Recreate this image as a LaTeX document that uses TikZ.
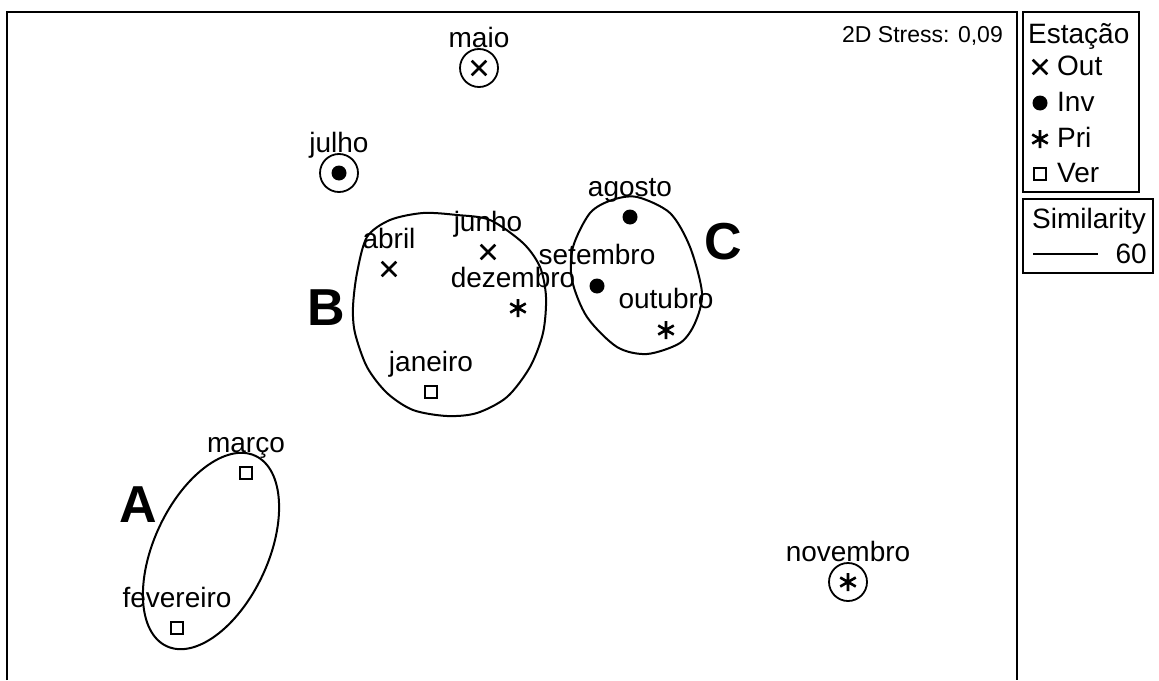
\documentclass[tikz,border=0pt]{standalone}
\usepackage{fontspec}
\setmainfont{Liberation Sans}
\usetikzlibrary{positioning, shapes.misc}

\begin{document}
\begin{tikzpicture} [x=1pt, y=-1pt,
outmk/.style={draw, cross out, minimum size=12pt, inner sep=0pt, line width=2.6pt},
invmk/.style={circle, fill, minimum size=15pt, inner sep=0pt},
primk/.style={minimum size=21pt, inner sep=0pt, path picture={\draw[line width=2.6pt, shift={(path picture bounding box.center)}] (0,-9) -- (0,9) (-7.8,-4.5) -- (7.8,4.5) (-7.8,4.5) -- (7.8,-4.5);}},
vermk/.style={draw, minimum size=12pt, inner sep=0pt, line width=2.8pt},
ring/.style={draw, circle, minimum size=38pt, line width=1.8pt},
lbl/.style={font=\fontsize{28}{28}\selectfont, inner sep=0pt, anchor=base},
leg/.style={font=\fontsize{28}{28}\selectfont, inner sep=0pt},
grp/.style={font=\fontsize{52}{52}\selectfont\bfseries, inner sep=0pt},
hull/.style={line width=2pt}]
\useasboundingbox (0,0) rectangle (1159,680);
% frame and legend boxes
\draw[line width=2.6pt] (7,680) -- (7,12) -- (1017,12) -- (1017,680);
\draw[line width=2.2pt] (1023,12) rectangle (1139,192);
\draw[line width=2.2pt] (1023,199) rectangle (1153,273);
\node[anchor=base east, inner sep=0pt, font=\fontsize{23}{23}\selectfont] (stress) at (1003,42) {2D Stress: 0,09};
% points
\node[outmk] (mai) at (479,68) {};
\node[ring] (rmai) at (mai) {};
\node[above=21pt of mai.center, lbl] {maio};
\node[invmk] (jul) at (339,173) {};
\node[ring] (rjul) at (jul) {};
\node[above=21pt of jul.center, lbl] {julho};
\node[outmk] (abr) at (389,269) {};
\node[above=21pt of abr.center, lbl] {abril};
\node[outmk] (jun) at (488,252) {};
\node[above=21pt of jun.center, lbl] {junho};
\node[primk] (dez) at (518,308) {};
\node[above=21pt of dez.center, lbl, xshift=-5pt] {dezembro};
\node[vermk] (jan) at (431,392) {};
\node[above=21pt of jan.center, lbl] {janeiro};
\node[invmk] (ago) at (630,217) {};
\node[above=21pt of ago.center, lbl] {agosto};
\node[invmk] (set) at (597,286) {};
\node[above=22pt of set.center, lbl] {setembro};
\node[primk] (otb) at (666,330) {};
\node[above=22pt of otb.center, lbl] {outubro};
\node[primk] (nov) at (848,582) {};
\node[ring] (rnov) at (nov) {};
\node[above=21pt of nov.center, lbl] {novembro};
\node[vermk] (mar) at (246,473) {};
\node[above=21pt of mar.center, lbl] {março};
\node[vermk] (fev) at (177,628) {};
\node[above=21pt of fev.center, lbl] {fevereiro};
% groups
\draw[hull, rotate around={65:(211,551)}] (211,551) ellipse [x radius=105, y radius=57];
\draw[hull] plot[smooth cycle] coordinates {(353,307) (357,273) (367,237) (390,220) (423,213) (457,215) (490,220) (523,243) (540,267) (546,297) (543,333) (530,367) (507,397) (477,413) (447,416) (413,410) (387,393) (367,367) (355,333)};
\draw[hull] plot[smooth cycle] coordinates {(637,197) (670,213) (690,247) (702,293) (695,323) (680,343) (647,354) (617,347) (587,317) (572,280) (573,247) (590,213) (612,200)};
\node[grp] (gA) at (138,505) {A};
\node[grp] (gB) at (326,308) {B};
\node[grp] (gC) at (723,242) {C};
% legend
\node[leg, anchor=base west] (est) at (1028,43) {Estação};
\node[outmk] (kout) at (1040,67) {};
\node[leg, anchor=base west] at (1057,75) {Out};
\node[invmk] (kinv) at (1040,103) {};
\node[leg, anchor=base west] at (1057,111) {Inv};
\node[primk] (kpri) at (1040,139) {};
\node[leg, anchor=base west] at (1057,147) {Pri};
\node[vermk] (kver) at (1040,174) {};
\node[leg, anchor=base west] at (1057,182) {Ver};
\node[leg, anchor=base west] (sim) at (1032,228) {Similarity};
\coordinate (s1) at (1033,254);
\coordinate (s2) at (1098,254);
\draw[line width=1.6pt] (s1) -- (s2);
\node[leg, anchor=base east] (lev) at (1147,263) {60};
\end{tikzpicture}
\end{document}
